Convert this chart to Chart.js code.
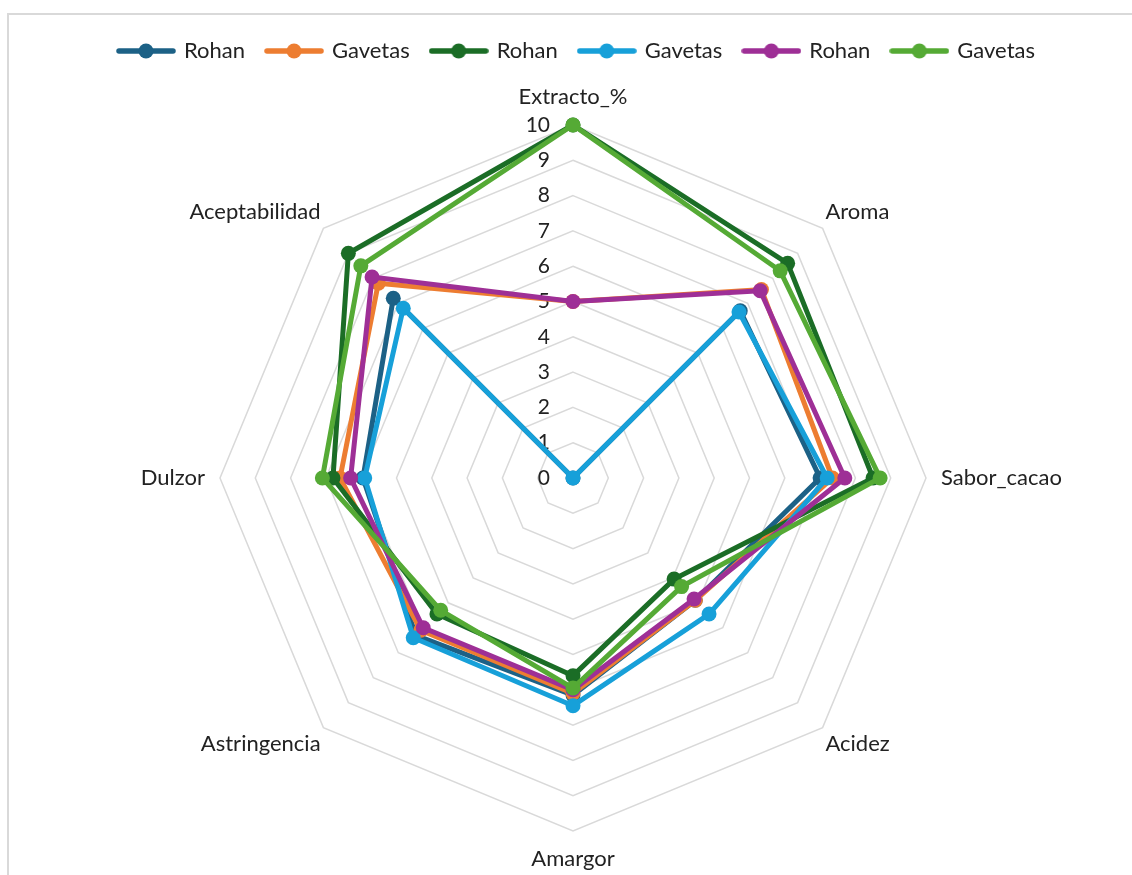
<!DOCTYPE html>
<html>
<head>
<meta charset="utf-8">
<script src="https://cdn.jsdelivr.net/npm/chart.js@4"></script>
<style>
  body { margin: 0; background: #fff; }
  #frame { position: absolute; left: 7px; top: 13px; width: 1140px; height: 880px; border: 2px solid #d9d9d9; box-sizing: border-box; }
  #wrap { position: absolute; left: 0; top: 0; width: 1132px; height: 875px; }
</style>
</head>
<body>
<div id="frame"></div>
<div id="wrap"><canvas id="radarChart"></canvas></div>
<script>
// Radar chart - sensory profile

const categories = ['Extracto_%', 'Aroma', 'Sabor_cacao', 'Acidez', 'Amargor', 'Astringencia', 'Dulzor', 'Aceptabilidad'];
const seriesNames = ['Rohan', 'Gavetas', 'Rohan', 'Gavetas', 'Rohan', 'Gavetas'];
const rohan1 = [0, 6.7, 7.0, 4.9, 6.15, 6.3, 5.95, 7.2];
const gavetas1 = [5, 7.55, 7.35, 4.9, 6.1, 6.1, 6.6, 7.8];
const rohan2 = [10, 8.6, 8.5, 4.05, 5.6, 5.45, 6.8, 9.0];
const gavetas2 = [0, 6.65, 7.2, 5.45, 6.45, 6.4, 5.9, 6.8];
const rohan3 = [5, 7.5, 7.7, 4.85, 6.0, 6.0, 6.3, 8.05];
const gavetas3 = [10, 8.3, 8.7, 4.35, 5.95, 5.3, 7.1, 8.5];
const tickValues = [0, 1, 2, 3, 4, 5, 6, 7, 8, 9, 10];

const seriesData = [rohan1, gavetas1, rohan2, gavetas2, rohan3, gavetas3];
const colors = ['#1c6186', '#ed7d31', '#1b6d26', '#17a0d9', '#9e2f96', '#55aa35'];
const FONT = 'Lato, "Liberation Sans", sans-serif';

// legend marker: line with a dot
function legendMarker(color) {
    const c = document.createElement('canvas');
    c.width = 60;
    c.height = 18;
    const g = c.getContext('2d');
    g.strokeStyle = color;
    g.lineWidth = 5.5;
    g.lineCap = 'round';
    g.beginPath();
    g.moveTo(3, 9);
    g.lineTo(57, 9);
    g.stroke();
    g.fillStyle = color;
    g.beginPath();
    g.arc(30, 9, 7.5, 0, Math.PI * 2);
    g.fill();
    return c;
}

// draw tick numbers (incl. 0) left of the vertical axis
const tickLabelsPlugin = {
    id: 'tickLabels',
    beforeDatasetsDraw(chart) {
        const scale = chart.scales.r;
        const ctx = chart.ctx;
        ctx.save();
        ctx.font = '21px ' + FONT;
        ctx.fillStyle = '#222';
        ctx.textAlign = 'right';
        ctx.textBaseline = 'middle';
        tickValues.forEach(v => {
            const d = scale.getDistanceFromCenterForValue(v);
            ctx.fillText(String(v), scale.xCenter - 23, scale.yCenter - d);
        });
        ctx.restore();
    }
};

const datasets = seriesData.map((d, i) => ({
    label: seriesNames[i],
    data: d,
    borderColor: colors[i],
    backgroundColor: colors[i],
    pointBackgroundColor: colors[i],
    pointBorderColor: colors[i],
    borderWidth: 5,
    pointRadius: 7.5,
    pointBorderWidth: 0,
    fill: false,
    order: seriesData.length - i
}));

new Chart(document.getElementById('radarChart'), {
    type: 'radar',
    data: { labels: categories, datasets: datasets },
    options: {
        responsive: true,
        maintainAspectRatio: false,
        animation: false,
        layout: { padding: { top: 18, bottom: 0, left: 22, right: 0 } },
        plugins: {
            tooltip: { enabled: false },
            legend: {
                position: 'top',
                labels: {
                    usePointStyle: true,
                    pointStyleWidth: 54,
                    padding: 22,
                    color: '#222',
                    font: { family: FONT, size: 22 },
                    generateLabels: chart => chart.data.datasets.map((ds, i) => ({
                        text: ds.label,
                        datasetIndex: i,
                        fillStyle: ds.borderColor,
                        strokeStyle: ds.borderColor,
                        lineWidth: 0,
                        pointStyle: legendMarker(ds.borderColor),
                        hidden: false,
                        fontColor: '#222'
                    })),
                    sort: (a, b) => a.datasetIndex - b.datasetIndex
                }
            }
        },
        scales: {
            r: {
                min: 0,
                max: 10,
                ticks: { display: false, stepSize: 1 },
                grid: { color: '#d9d9d9', lineWidth: 1.5 },
                angleLines: { display: false },
                pointLabels: {
                    color: '#222',
                    font: { family: FONT, size: 22 },
                    padding: ctx => (ctx.index % 2 === 0 ? 15 : 4)
                },
                afterFit: scale => {
                    // fix the centre and radius, then rebuild label positions
                    scale.xCenter = 573;
                    scale.yCenter = 478;
                    scale.drawingArea = 353;
                    scale.fit();
                }
            }
        }
    },
    plugins: [tickLabelsPlugin]
});
</script>
</body>
</html>
